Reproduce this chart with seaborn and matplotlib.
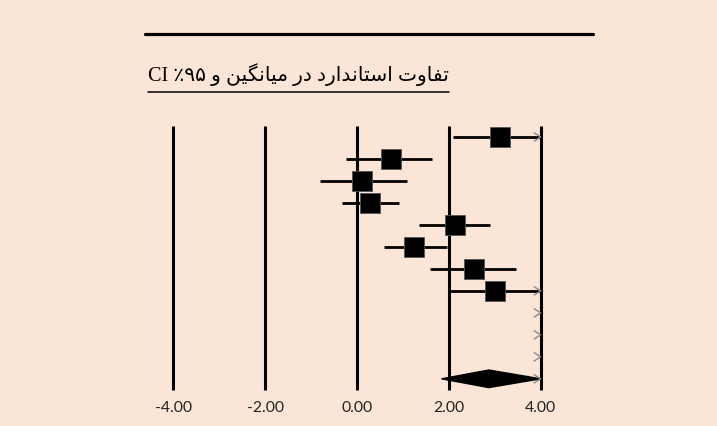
import matplotlib
matplotlib.use('Agg')
import matplotlib.pyplot as plt
import seaborn as sns
import pandas as pd
import numpy as np

# study rows, top to bottom (rows 9-11 fall outside the scale)
effect = [3.11, 0.73, 0.10, 0.29, 2.13, 1.25, 2.54, 3.01, 4.90, 5.10, 5.30]
ci_low = [2.09, -0.25, -0.80, -0.33, 1.34, 0.59, 1.59, 2.00, 4.30, 4.40, 4.50]
ci_high = [4.60, 1.64, 1.08, 0.92, 2.89, 1.97, 3.46, 4.50, 5.60, 5.80, 6.00]

# pooled estimate (diamond)
pooled = 2.87
pooled_low = 1.84
pooled_high = 4.05

ticks = [-4, -2, 0, 2, 4]
title_words = ["تفاوت", "استاندارد", "در", "میانگین", "و"]
title_tail = "CI ٪۹۵"

BG = "#FBE5D6"

# contextual forms: isolated, final, initial, medial
FORMS = {
    "ت": ("\uFE95", "\uFE96", "\uFE97", "\uFE98"),
    "ف": ("\uFED1", "\uFED2", "\uFED3", "\uFED4"),
    "س": ("\uFEB1", "\uFEB2", "\uFEB3", "\uFEB4"),
    "ن": ("\uFEE5", "\uFEE6", "\uFEE7", "\uFEE8"),
    "م": ("\uFEE1", "\uFEE2", "\uFEE3", "\uFEE4"),
    "ی": ("\uFBFC", "\uFBFD", "\uFBFE", "\uFBFF"),
    "گ": ("\uFB92", "\uFB93", "\uFB94", "\uFB95"),
    "ا": ("\uFE8D", "\uFE8E", None, None),
    "و": ("\uFEED", "\uFEEE", None, None),
    "د": ("\uFEA9", "\uFEAA", None, None),
    "ر": ("\uFEAD", "\uFEAE", None, None),
}


def shape_word(word):
    out = []
    for i, ch in enumerate(word):
        f = FORMS[ch]
        joins_prev = i > 0 and FORMS[word[i - 1]][2] is not None
        joins_next = f[2] is not None and i + 1 < len(word)
        if joins_prev and joins_next:
            out.append(f[3])
        elif joins_prev:
            out.append(f[1])
        elif joins_next:
            out.append(f[2])
        else:
            out.append(f[0])
    return "".join(out)[::-1]


def visual_title():
    fa = " ".join(shape_word(w) for w in reversed(title_words))
    return title_tail + " " + fa


sns.set_theme(style="white")
plt.rcParams["font.family"] = ["Lato", "DejaVu Sans"]

fig = plt.figure(figsize=(7.17, 4.26), dpi=100, facecolor=BG)
ax = fig.add_axes([145 / 717, 34 / 426, 448 / 717, 277 / 426])
ax.set_facecolor(BG)

xmin, xmax = -4.62, 5.14
ax.set_xlim(xmin, xmax)
ax.set_ylim(11.6, -1)

n = len(effect)
df = pd.DataFrame({"row": np.arange(n), "effect": effect,
                   "low": ci_low, "high": ci_high})
scale_max = max(ticks)

# reference lines
ax.vlines(ticks, -0.5, 11.5, color="black", lw=2.2, zorder=1)

# confidence intervals, clipped to the scale
vis = df[df["low"] < scale_max]
ax.hlines(vis["row"], vis["low"].clip(lower=xmin), vis["high"].clip(upper=scale_max),
          color="black", lw=2.0, zorder=2)

# squares
inside = df[df["effect"] <= scale_max]
sns.scatterplot(data=inside, x="effect", y="row", marker="s", s=215,
                color="black", edgecolor="#555555", linewidth=0.6, ax=ax, zorder=3)

# pooled diamond
pr = n
ax.fill([pooled_low, pooled, min(pooled_high, scale_max), pooled],
        [pr, pr - 0.4, pr, pr + 0.4], color="black", zorder=3)

# gray chevrons where an interval runs past the scale
over_rows = list(df.loc[df["high"] > scale_max, "row"])
if pooled_high > scale_max:
    over_rows.append(pr)
for r in over_rows:
    ax.plot([scale_max - 0.15, scale_max, scale_max - 0.15], [r - 0.2, r, r + 0.2],
            color="#8a8a8a", lw=1.0, zorder=4, solid_capstyle="butt")

ax.set_xticks(ticks)
ax.set_xticklabels([f"{t:.2f}" for t in ticks], fontsize=11.3, color="#222222")
ax.tick_params(axis="x", length=0, pad=6.5)
ax.set_yticks([])
ax.set_xlabel("")
ax.set_ylabel("")
for s in ax.spines.values():
    s.set_visible(False)

# header rule and title
fig.add_artist(plt.Line2D([145 / 717, 593 / 717], [1 - 34 / 426] * 2,
                          color="black", lw=2.3, transform=fig.transFigure))
title = fig.text(148 / 717, 1 - 81 / 426, visual_title(), ha="left", va="baseline",
                 fontsize=14.6, color="black", family=["Liberation Serif", "DejaVu Sans"])
fig.canvas.draw()
bb = title.get_window_extent().transformed(fig.transFigure.inverted())
fig.add_artist(plt.Line2D([bb.x0, bb.x1], [1 - 92 / 426] * 2, color="black", lw=1.1,
                          transform=fig.transFigure))

fig.savefig("out.png", dpi=100, facecolor=BG)
